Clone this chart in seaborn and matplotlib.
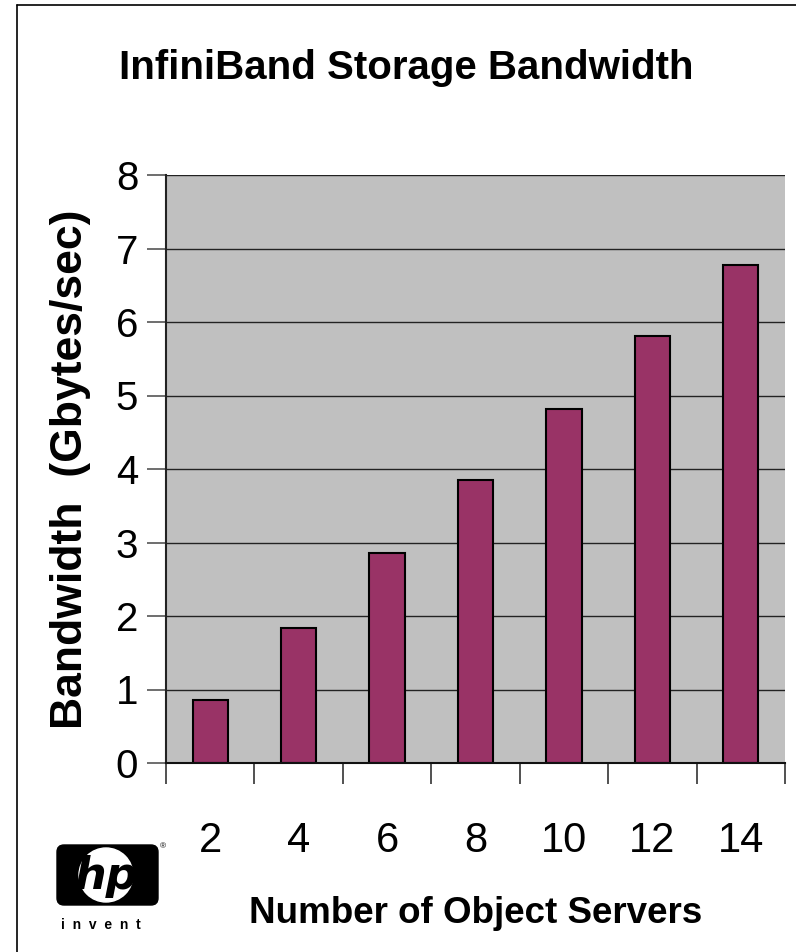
import matplotlib
matplotlib.use("Agg")
import matplotlib.pyplot as plt
import seaborn as sns
import pandas as pd
from matplotlib.patches import FancyBboxPatch, Circle

servers = ["2", "4", "6", "8", "10", "12", "14"]
bandwidth = [0.86, 1.84, 2.86, 3.85, 4.82, 5.81, 6.78]

df = pd.DataFrame({"servers": servers, "bandwidth": bandwidth})

sns.set_style("white")
plt.rcParams["font.family"] = ["Liberation Sans", "DejaVu Sans"]
plt.rcParams["text.color"] = "black"
plt.rcParams["axes.labelcolor"] = "black"
plt.rcParams["xtick.color"] = "black"
plt.rcParams["ytick.color"] = "black"

fig = plt.figure(figsize=(7.96, 9.52), dpi=100)
ax = fig.add_axes([166 / 796, 1 - 763 / 952, (785 - 166) / 796, (763 - 175) / 952])
ax.set_facecolor("#c0c0c0")

sns.barplot(x="servers", y="bandwidth", data=df, color="#993366", width=0.4,
            edgecolor="black", linewidth=1.5, saturation=1, ax=ax)

ax.set_ylim(0, 8)
ax.set_xlim(-0.5, 6.5)
ax.set_yticks(range(0, 9))
ax.yaxis.grid(True, color="#222222", linewidth=1)
ax.set_axisbelow(True)

# ticks between categories on x, labels under the bars
ax.set_xticks([i - 0.5 for i in range(8)], minor=False)
ax.set_xticklabels([])
ax.set_xticks(range(7), minor=True)
ax.set_xticklabels(servers, minor=True)
ax.tick_params(axis="x", which="major", bottom=True, direction="out", length=15, width=1.2, color="#333333")
ax.tick_params(axis="x", which="minor", bottom=True, length=0, pad=42, labelsize=30)
ax.tick_params(axis="y", left=True, direction="out", length=14, width=1.2, color="#555555", labelsize=29, pad=6)

for s in ["top", "right"]:
    ax.spines[s].set_visible(False)
ax.spines["left"].set_color("#222222")
ax.spines["left"].set_linewidth(1.5)
ax.spines["bottom"].set_color("#111111")
ax.spines["bottom"].set_linewidth(1.5)

ax.set_xlabel("Number of Object Servers", fontsize=26.5, fontweight="bold", labelpad=25)
ax.set_ylabel("Bandwidth  (Gbytes/sec)", fontsize=32, fontweight="bold", labelpad=18)

fig.text(406 / 796, 1 - 68 / 952, "InfiniBand Storage Bandwidth", fontsize=29,
         fontweight="bold", ha="center", va="center")

# frame around the slide
fig.add_artist(plt.Line2D([17 / 796, 17 / 796], [0, 1 - 5 / 952], color="black", lw=1.2, transform=fig.transFigure))
fig.add_artist(plt.Line2D([17 / 796, 1], [1 - 5 / 952, 1 - 5 / 952], color="black", lw=1.2, transform=fig.transFigure))

# hp logo
lax = fig.add_axes([50 / 796, 1 - 940 / 952, 120 / 796, 100 / 952])
lax.set_xlim(0, 120)
lax.set_ylim(0, 100)
lax.axis("off")
lax.add_patch(FancyBboxPatch((7, 35), 101, 60, boxstyle="round,pad=0,rounding_size=7", color="black"))
lax.add_patch(Circle((56, 65), 27, color="white"))
lax.text(56, 64, "hp", fontsize=32, fontweight="bold", style="italic", ha="center", va="center",
         family="DejaVu Sans")
lax.text(113, 93, "®", fontsize=6, ha="center", va="center")
lax.text(51, 15, "i  n  v  e  n  t", fontsize=10, fontweight="bold", ha="center", va="center")

fig.savefig("out.png", dpi=100)
